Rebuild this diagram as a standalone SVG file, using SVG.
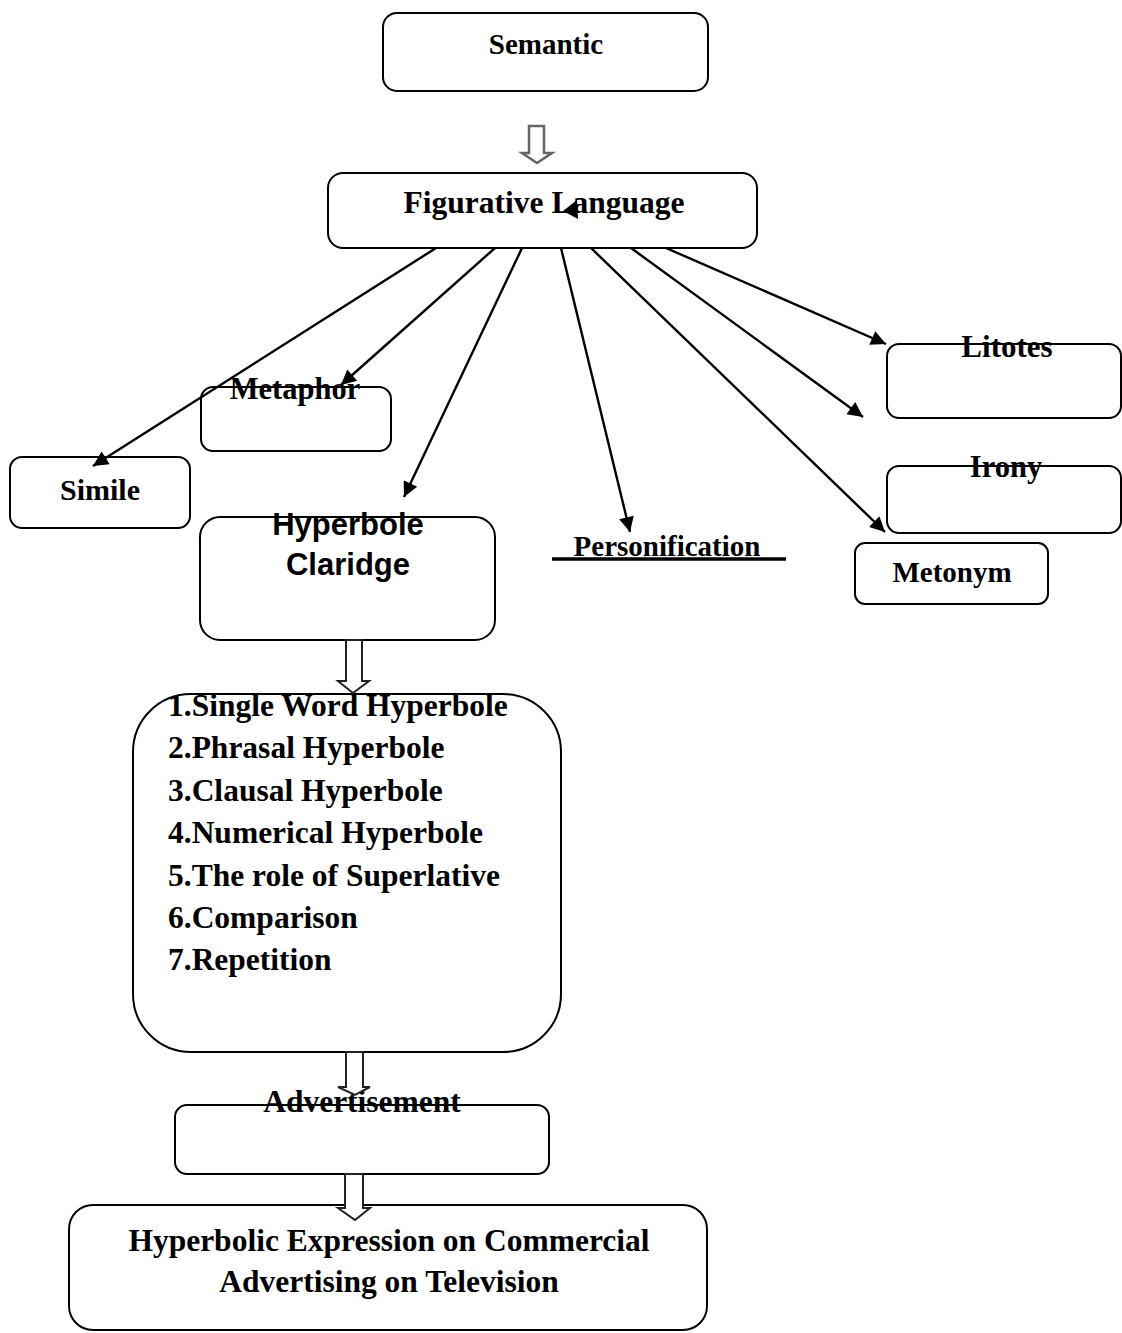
<svg xmlns="http://www.w3.org/2000/svg" width="1122" height="1333" viewBox="0 0 1122 1333">
<style>
.box{fill:none;stroke:#000;stroke-width:2}
.t{font-family:"Liberation Serif","Times New Roman",serif;font-weight:bold;fill:#000}
.s{font-family:"Liberation Sans",Arial,sans-serif;font-weight:bold;fill:#000}
.c{text-anchor:middle}
.ln{stroke:#000;stroke-width:2.4;fill:none;marker-end:url(#ah)}
.blk{fill:#fff;stroke:#222;stroke-width:2;stroke-linejoin:miter}
.blkg{fill:#fff;stroke:#666;stroke-width:2.5;stroke-linejoin:miter}
</style>
<defs>
<marker id="ah" viewBox="0 0 10 10" refX="10" refY="5" markerWidth="19" markerHeight="15" markerUnits="userSpaceOnUse" orient="auto">
<path d="M0,0 L10,5 L0,10 z" fill="#000"/>
</marker>
</defs>
<rect width="1122" height="1333" fill="#fff"/>
<g id="semantic">
<rect class="box" x="383" y="13" width="325" height="78" rx="14"/>
<text class="t c" x="546" y="54" font-size="29">Semantic</text>
</g>
<g id="figurative">
<rect class="box" x="328" y="173" width="429" height="75" rx="15"/>
<text class="t c" x="544" y="213" font-size="31.5">Figurative Language</text>
</g>
<g id="simile">
<rect class="box" x="10" y="457" width="180" height="71" rx="12"/>
<text class="t c" x="100" y="500" font-size="30">Simile</text>
</g>
<g id="metaphor">
<rect class="box" x="201" y="387" width="190" height="64" rx="12"/>
<text class="t c" x="295" y="399" font-size="30.5">Metaphor</text>
</g>
<g id="hyperbole">
<rect class="box" x="200" y="517" width="295" height="123" rx="20"/>
<text class="s c" x="348" y="535" font-size="31">Hyperbole</text>
<text class="s c" x="348" y="575" font-size="31">Claridge</text>
</g>
<g id="personification">
<text class="t c" x="667" y="556" font-size="29">Personification</text>
<line x1="552" y1="559" x2="786" y2="559" stroke="#000" stroke-width="3.5"/>
</g>
<g id="litotes">
<rect class="box" x="887" y="344" width="234" height="74" rx="12"/>
<text class="t c" x="1007" y="357" font-size="31">Litotes</text>
</g>
<g id="irony">
<rect class="box" x="887" y="466" width="234" height="67" rx="12"/>
<text class="t c" x="1006" y="477" font-size="30.5">Irony</text>
</g>
<g id="metonym">
<rect class="box" x="855" y="543" width="193" height="61" rx="10"/>
<text class="t c" x="952" y="582" font-size="29">Metonym</text>
</g>
<g id="types">
<rect class="box" x="133" y="694" width="428" height="358" rx="58"/>
<g class="t" font-size="31.5">
<text x="168" y="716">1.Single Word Hyperbole</text>
<text x="168" y="758">2.Phrasal Hyperbole</text>
<text x="168" y="801">3.Clausal Hyperbole</text>
<text x="168" y="843">4.Numerical Hyperbole</text>
<text x="168" y="886">5.The role of Superlative</text>
<text x="168" y="928">6.Comparison</text>
<text x="168" y="970">7.Repetition</text>
</g>
</g>
<g id="advertisement">
<rect class="box" x="175" y="1105" width="374" height="69" rx="12"/>
<text class="t c" x="362" y="1112" font-size="31.5">Advertisement</text>
</g>
<g id="result">
<rect class="box" x="69" y="1205" width="638" height="125" rx="24"/>
<text class="t c" x="389" y="1251" font-size="31.5">Hyperbolic Expression on Commercial</text>
<text class="t c" x="389" y="1292" font-size="31.5">Advertising on Television</text>
</g>
<g id="connectors">
<path class="blkg" d="M529,126 L544,126 L544,153 L552,153 L537,163 L522,153 L529,153 Z"/>
<path class="blk" d="M346,640 L362,640 L362,681 L369,681 L353,693 L338,681 L346,681 Z"/>
<path class="blk" d="M346,1052 L363,1052 L363,1087 L370,1087 L355,1095 L338,1087 L346,1087 Z"/>
<path class="blk" d="M345,1174 L363,1174 L363,1208 L370,1208 L355,1220 L338,1208 L345,1208 Z"/>
<polygon points="563,211 577,200 578,219" fill="#000"/>
<line class="ln" x1="436" y1="248" x2="93" y2="466"/>
<line class="ln" x1="495" y1="248" x2="341" y2="385"/>
<line class="ln" x1="522" y1="248" x2="404" y2="497"/>
<line class="ln" x1="561" y1="248" x2="630" y2="532"/>
<line class="ln" x1="591" y1="248" x2="885" y2="532"/>
<line class="ln" x1="631" y1="248" x2="863" y2="417"/>
<line class="ln" x1="666" y1="248" x2="886" y2="344"/>
</g>
</svg>
